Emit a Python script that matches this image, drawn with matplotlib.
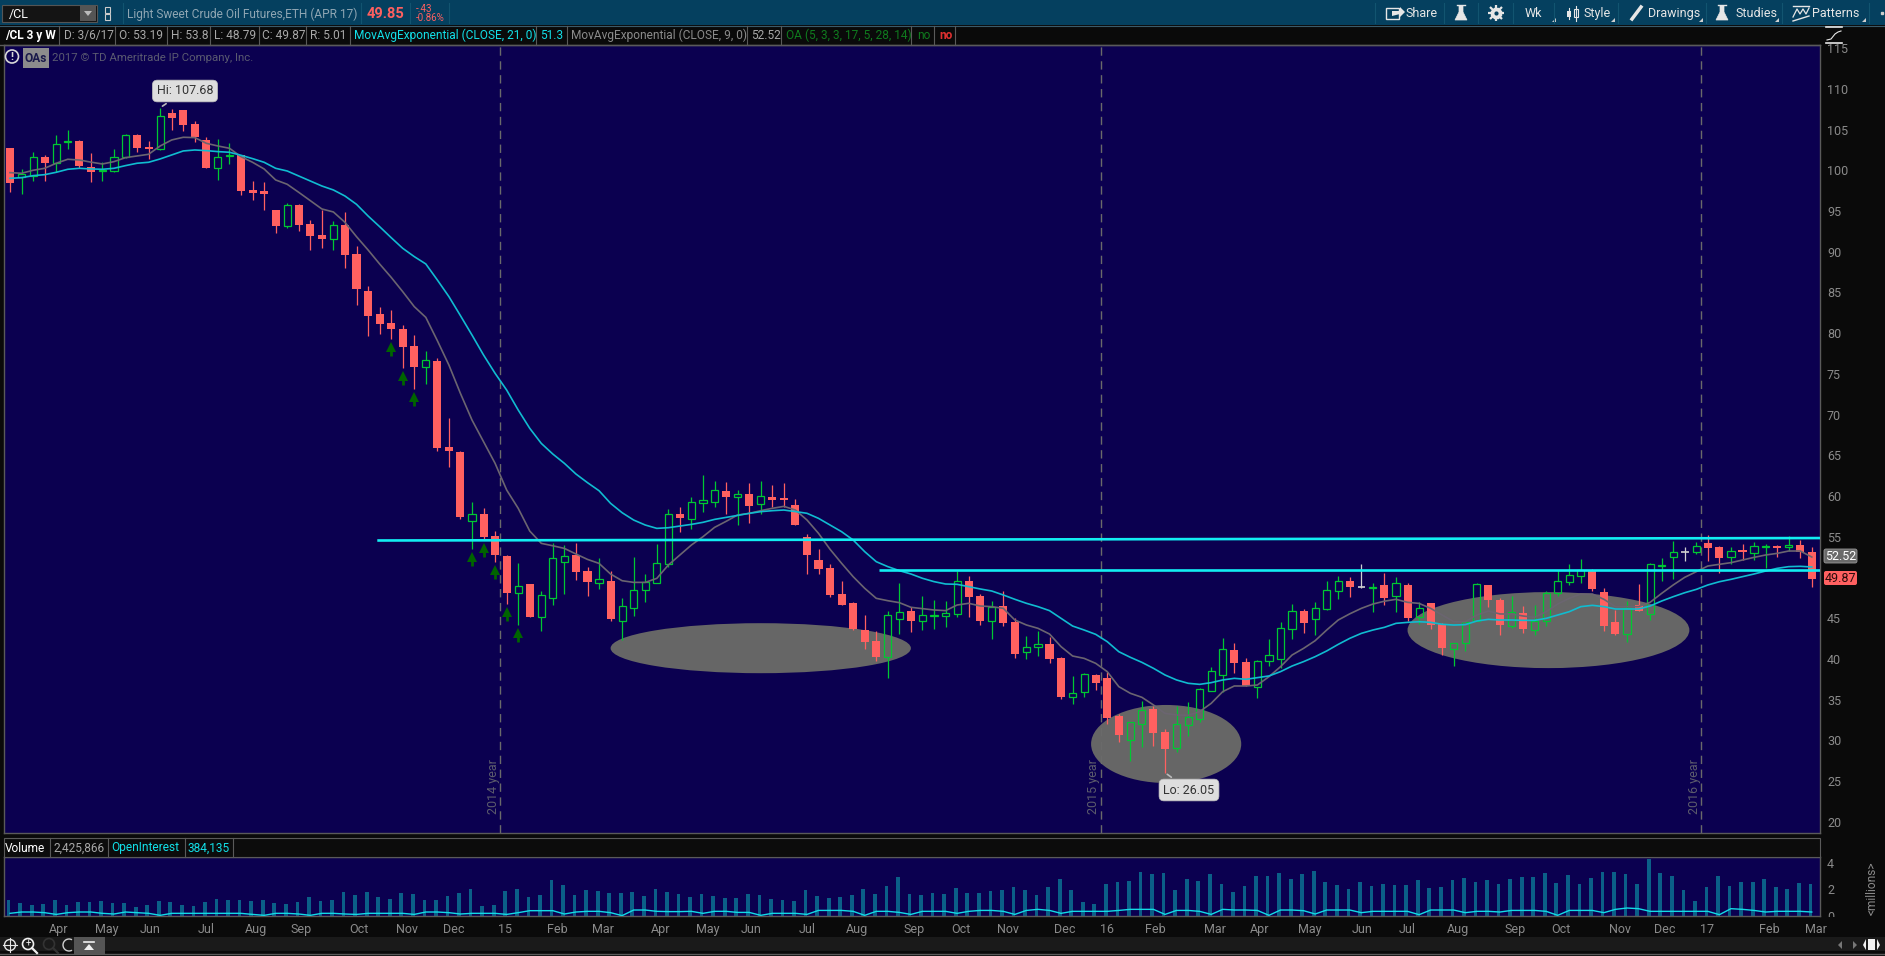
"""Weekly /CL crude oil chart, redrawn in the style of a thinkorswim window."""

import matplotlib
matplotlib.use("Agg")
import matplotlib.pyplot as plt
from matplotlib.patches import Arc, Ellipse, FancyBboxPatch, Rectangle, Circle, Polygon

W, H = 1885, 956

plt.rcParams['font.family'] = ['Roboto', 'DejaVu Sans']

opens = [102.74, 99.22, 99.34, 101.59, 100.86, 103.43, 103.60, 100.40, 99.87, 99.95,
         101.59, 104.33, 102.82, 102.66, 107.03, 107.40, 105.68, 103.72, 100.32, 101.71,
         101.88, 97.58, 97.46, 95.13, 93.20, 95.74, 93.41, 92.06, 91.61, 93.28,
         89.72, 85.18, 82.36, 81.25, 80.51, 78.42, 75.89, 76.58, 66.02, 65.41,
         56.98, 57.80, 55.10, 52.64, 48.14, 49.21, 45.20, 47.53, 51.95, 52.77,
         50.80, 49.37, 49.57, 44.71, 46.30, 48.51, 49.37, 51.70, 57.80, 57.23,
         59.19, 59.31, 60.62, 59.93, 60.25, 58.99, 59.89, 59.76, 58.91, 54.94,
         52.16, 51.17, 47.98, 46.88, 43.56, 42.21, 40.29, 44.95, 45.90, 44.71,
         45.32, 45.32, 45.57, 49.58, 47.74, 44.71, 46.51, 44.55, 40.90, 41.44,
         41.84, 40.13, 35.38, 35.91, 38.04, 37.67, 33.00, 30.10, 32.06, 33.86,
         31.04, 29.12, 31.94, 32.68, 36.12, 38.08, 41.11, 39.64, 36.61, 39.72,
         39.96, 43.73, 45.85, 44.95, 46.14, 48.39, 49.58, 48.96, 48.76, 49.09,
         47.78, 49.09, 45.12, 46.88, 44.30, 41.27, 42.01, 44.71, 49.09, 47.20,
         44.09, 45.65, 43.60, 44.63, 48.06, 49.49, 50.23, 50.93, 48.23, 44.54,
         43.11, 46.63, 45.48, 51.42, 52.56, 53.26, 53.18, 54.24, 53.75, 52.48,
         53.38, 53.05, 53.75, 53.87, 53.79, 53.99, 53.19]
highs = [102.74, 100.12, 102.21, 101.88, 104.33, 104.95, 103.72, 102.08, 101.06, 102.61,
         104.46, 104.46, 103.60, 107.68, 107.48, 107.40, 106.05, 104.05, 103.84, 103.31,
         101.92, 98.69, 98.56, 95.13, 95.94, 95.86, 93.90, 95.13, 93.73, 94.88,
         90.71, 85.80, 83.22, 82.85, 81.00, 79.77, 77.81, 76.95, 69.58, 65.53,
         59.27, 58.54, 55.71, 52.77, 51.78, 49.21, 48.35, 54.24, 54.00, 54.24,
         51.29, 52.40, 50.80, 47.49, 52.52, 50.43, 54.12, 58.41, 58.66, 59.89,
         62.59, 61.85, 61.73, 60.75, 61.60, 61.85, 61.36, 61.60, 59.64, 55.35,
         53.51, 51.67, 49.58, 47.00, 45.40, 43.44, 45.90, 49.33, 46.39, 47.74,
         47.25, 47.12, 50.81, 50.19, 47.98, 47.12, 48.35, 45.04, 42.83, 43.44,
         42.70, 40.25, 37.92, 38.28, 38.16, 38.41, 33.25, 32.27, 34.85, 34.23,
         31.41, 34.23, 34.72, 36.44, 39.02, 42.58, 41.97, 40.13, 39.88, 42.46,
         44.55, 46.75, 46.14, 47.00, 49.58, 50.19, 50.03, 51.66, 49.29, 50.56,
         50.07, 49.33, 47.00, 46.88, 44.38, 41.96, 44.71, 49.29, 49.09, 47.49,
         47.73, 46.51, 46.63, 48.35, 50.93, 51.66, 52.28, 51.05, 48.72, 46.02,
         47.12, 49.21, 51.79, 52.40, 54.49, 53.79, 54.36, 55.22, 53.87, 53.75,
         54.12, 54.36, 54.12, 54.00, 55.10, 54.61, 53.80]
lows = [97.38, 97.09, 98.73, 98.73, 99.75, 102.61, 100.24, 98.60, 98.73, 99.83,
        101.47, 102.25, 101.39, 102.49, 104.95, 104.82, 103.47, 100.32, 98.81, 100.77,
        96.97, 96.35, 95.13, 92.30, 92.96, 92.55, 90.22, 90.46, 90.22, 88.01,
        83.46, 79.66, 79.90, 79.29, 75.72, 73.14, 73.76, 65.53, 63.57, 57.19,
        53.50, 54.61, 51.91, 46.75, 44.17, 45.15, 43.44, 46.63, 47.98, 49.70,
        47.73, 48.59, 44.66, 42.33, 45.28, 47.00, 49.37, 51.33, 55.59, 55.96,
        58.05, 58.66, 57.80, 56.45, 56.69, 57.80, 58.62, 58.70, 56.45, 50.44,
        50.44, 47.61, 46.63, 43.56, 41.23, 39.76, 37.67, 43.07, 43.32, 43.56,
        43.69, 43.93, 45.16, 45.16, 44.18, 42.46, 44.05, 40.13, 40.00, 40.37,
        39.51, 35.09, 34.48, 35.34, 36.20, 32.02, 29.81, 27.48, 29.20, 29.32,
        26.05, 28.59, 30.55, 32.27, 36.12, 35.95, 38.28, 36.69, 35.22, 39.14,
        38.90, 42.46, 43.19, 42.95, 46.02, 47.37, 47.61, 48.68, 45.77, 46.63,
        45.77, 44.67, 44.30, 43.68, 40.49, 39.14, 40.98, 44.71, 46.38, 42.95,
        43.81, 43.19, 42.95, 44.05, 47.73, 49.09, 49.33, 48.35, 43.44, 42.95,
        42.09, 45.85, 44.79, 49.58, 49.82, 52.03, 52.89, 52.03, 50.56, 51.66,
        52.15, 52.15, 51.17, 52.52, 53.26, 52.40, 48.79]
closes = [98.44, 99.50, 101.59, 100.90, 103.19, 103.56, 100.53, 99.83, 100.06, 101.59,
          104.29, 102.74, 102.61, 106.62, 106.42, 105.56, 104.05, 100.32, 101.59, 101.84,
          97.50, 97.21, 97.09, 93.20, 95.74, 93.28, 91.93, 91.57, 93.24, 89.60,
          85.43, 82.11, 81.13, 80.52, 78.30, 75.85, 76.66, 65.90, 65.53, 57.43,
          57.76, 54.98, 52.77, 48.10, 48.92, 45.15, 47.81, 52.36, 52.60, 50.68,
          49.45, 49.78, 44.91, 46.46, 48.43, 49.49, 51.74, 57.76, 57.31, 59.23,
          59.48, 60.71, 59.89, 60.21, 58.78, 59.97, 59.52, 59.52, 56.45, 52.77,
          51.05, 47.86, 46.63, 43.69, 42.09, 40.25, 45.36, 45.73, 44.67, 45.36,
          45.40, 45.61, 49.54, 47.61, 44.67, 46.35, 44.42, 40.62, 41.44, 41.80,
          40.00, 35.34, 35.79, 38.12, 37.06, 32.76, 30.67, 32.23, 33.70, 30.92,
          28.95, 31.98, 32.84, 36.36, 38.49, 41.19, 39.51, 36.69, 39.76, 40.45,
          43.77, 45.94, 44.42, 46.30, 48.43, 49.54, 48.84, 48.84, 48.84, 47.49,
          49.29, 45.03, 46.22, 44.17, 41.35, 41.92, 44.58, 49.17, 47.24, 44.17,
          45.73, 43.68, 44.67, 48.10, 49.54, 50.27, 50.93, 48.60, 44.05, 43.07,
          46.22, 45.93, 51.66, 51.50, 53.10, 53.18, 53.83, 53.63, 52.40, 53.22,
          53.14, 53.83, 53.87, 53.63, 53.99, 53.14, 49.87]

ema_9 = [99.71, 99.63, 100.0, 100.24, 100.86, 101.35, 101.26, 101.0, 100.77, 101.06,
         101.55, 101.75, 101.96, 102.98, 103.72, 104.05, 104.01, 103.31, 102.98, 102.70,
         101.67, 100.98, 100.16, 98.81, 98.28, 97.29, 96.27, 95.25, 94.88, 93.61,
         91.85, 90.22, 88.50, 86.86, 85.10, 83.26, 81.94, 79.08, 76.09, 72.60,
         69.34, 66.68, 64.02, 60.75, 58.50, 55.71, 54.20, 53.9, 53.58, 52.89,
         52.23, 51.74, 50.43, 49.61, 49.41, 49.41, 49.90, 51.54, 52.77, 54.00,
         55.02, 56.16, 56.9, 57.68, 57.88, 58.21, 58.5, 58.74, 58.29, 57.07,
         55.43, 53.47, 51.75, 50.11, 48.68, 47.45, 47.16, 46.92, 46.35, 46.18,
         46.02, 45.94, 46.63, 46.84, 46.51, 46.43, 46.22, 44.79, 44.18, 43.77,
         43.07, 41.52, 40.37, 40.08, 39.47, 38.45, 36.61, 35.79, 35.30, 34.36,
         33.33, 33.13, 33.09, 33.54, 34.56, 36.00, 36.69, 36.69, 36.81, 37.83,
         39.06, 40.49, 41.31, 42.25, 43.56, 44.79, 45.55, 46.22, 46.75, 47.1,
         47.33, 46.96, 46.83, 46.22, 45.40, 44.58, 44.58, 45.40, 45.89, 45.53,
         45.53, 45.28, 45.12, 45.81, 46.75, 47.45, 47.98, 47.98, 47.33, 46.43,
         46.43, 46.43, 46.96, 48.06, 49.09, 50.03, 50.72, 51.42, 51.62, 51.83,
         52.15, 52.48, 52.77, 52.97, 53.26, 53.26, 52.52]
ema_21 = [99.01, 99.09, 99.34, 99.46, 99.75, 100.12, 100.24, 100.16, 100.12, 100.24,
          100.57, 100.86, 100.98, 101.39, 101.88, 102.37, 102.49, 102.41, 102.29, 102.21,
          101.84, 101.43, 100.98, 100.24, 99.91, 99.30, 98.69, 98.07, 97.58, 96.84,
          95.82, 94.39, 93.08, 91.73, 90.42, 89.40, 88.50, 86.53, 84.49, 82.15,
          79.77, 77.32, 75.07, 73.02, 70.57, 68.32, 66.47, 65.16, 64.02, 62.71,
          61.65, 60.66, 59.11, 57.96, 57.06, 56.45, 56.04, 56.12, 56.33, 56.53,
          56.78, 57.14, 57.39, 57.64, 57.88, 58.09, 58.21, 58.29, 58.10, 57.89,
          57.27, 56.45, 55.63, 54.61, 53.18, 51.95, 51.34, 50.85, 50.44, 49.91,
          49.50, 49.21, 49.17, 48.88, 48.60, 48.35, 47.86, 47.33, 46.84, 46.43,
          45.94, 45.00, 44.05, 43.56, 43.03, 42.13, 40.90, 40.21, 39.59, 38.86,
          38.04, 37.43, 37.02, 36.89, 37.10, 37.43, 37.63, 37.51, 37.71, 37.92,
          38.45, 39.14, 39.68, 40.29, 40.99, 41.80, 42.54, 43.15, 43.56, 43.89,
          44.38, 44.50, 44.58, 44.50, 44.26, 44.17, 44.22, 44.67, 44.87, 44.79,
          44.79, 44.75, 44.75, 44.99, 45.40, 45.81, 46.43, 46.59, 46.43, 46.14,
          46.14, 46.14, 46.51, 47.12, 47.65, 48.14, 48.55, 49.09, 49.49, 49.78,
          50.11, 50.44, 50.80, 51.13, 51.34, 51.38, 51.30]

# millions of contracts
volume = [1.2, 0.98, 0.83, 0.9, 1.2, 0.83, 1.05, 1.05, 1.12, 0.98,
          0.98, 0.68, 0.83, 1.12, 1.05, 0.83, 0.75, 1.05, 1.27, 1.2,
          1.2, 1.12, 1.2, 0.98, 0.9, 1.05, 1.42, 1.12, 1.2, 1.8,
          1.58, 1.8, 1.42, 1.27, 1.72, 1.65, 1.2, 1.2, 1.5, 1.72,
          2.02, 0.75, 0.83, 1.88, 2.02, 1.42, 1.58, 2.7, 2.32, 1.58,
          1.95, 1.88, 1.72, 1.72, 1.8, 1.5, 2.02, 1.8, 1.65, 1.42,
          1.65, 1.5, 1.35, 1.35, 1.65, 1.58, 1.27, 1.2, 1.12, 1.95,
          1.5, 1.35, 1.42, 1.58, 2.02, 1.65, 2.25, 2.92, 1.65, 1.58,
          1.72, 1.65, 2.1, 1.72, 1.72, 1.88, 1.95, 2.18, 1.95, 1.58,
          2.18, 2.78, 1.95, 1.05, 0.9, 2.4, 2.55, 2.62, 3.3, 3.15,
          3.22, 1.95, 2.78, 2.62, 3.15, 2.4, 1.8, 2.25, 3.0, 3.0,
          3.22, 2.78, 3.15, 3.38, 2.55, 2.32, 2.02, 2.55, 2.25, 2.4,
          2.32, 2.32, 2.7, 2.1, 2.18, 2.7, 2.85, 2.55, 2.7, 2.4,
          2.78, 2.92, 2.92, 3.22, 2.48, 3.08, 2.4, 2.85, 3.3, 3.3,
          3.15, 2.4, 4.28, 3.22, 3.0, 1.95, 1.12, 2.18, 3.0, 2.25,
          2.55, 2.55, 2.78, 2.18, 2.02, 2.48, 2.4]
open_interest = [0.2, 0.3, 0.3, 0.25, 0.12, 0.25, 0.3, 0.3, 0.2, 0.15,
                 0.3, 0.25, 0.2, 0.05, 0.2, 0.2, 0.2, 0.2, 0.2, 0.2,
                 0.2, 0.12, 0.05, 0.2, 0.2, 0.15, 0.05, 0.2, 0.2, 0.15,
                 0.12, 0.2, 0.2, 0.2, 0.2, 0.12, 0.3, 0.3, 0.25, 0.15,
                 0.2, 0.2, 0.2, 0.12, 0.25, 0.4, 0.4, 0.4, 0.15, 0.3,
                 0.35, 0.35, 0.25, 0.03, 0.45, 0.45, 0.35, 0.33, 0.33, 0.35,
                 0.2, 0.35, 0.35, 0.27, 0.27, 0.05, 0.2, 0.2, 0.2, 0.12,
                 0.42, 0.42, 0.42, 0.35, 0.05, 0.35, 0.35, 0.27, 0.12, 0.35,
                 0.35, 0.35, 0.2, 0.35, 0.42, 0.42, 0.35, 0.12, 0.42, 0.5,
                 0.42, 0.2, 0.35, 0.35, 0.35, 0.35, 0.42, 0.5, 0.5, 0.5,
                 0.12, 0.42, 0.42, 0.35, 0.12, 0.5, 0.45, 0.45, 0.42, 0.05,
                 0.45, 0.45, 0.4, 0.15, 0.45, 0.45, 0.45, 0.25, 0.35, 0.35,
                 0.35, 0.35, 0.1, 0.45, 0.45, 0.45, 0.25, 0.35, 0.35, 0.3,
                 0.42, 0.42, 0.42, 0.35, 0.05, 0.42, 0.42, 0.42, 0.25, 0.5,
                 0.6, 0.55, 0.35, 0.35, 0.35, 0.35, 0.35, 0.35, 0.1, 0.55,
                 0.5, 0.42, 0.3, 0.35, 0.35, 0.35, 0.3]

# week numbers counted from 1
weeks = list(range(1, len(opens) + 1))
neutral_weeks = [118, 146]
signal_weeks = [34, 35, 36, 41, 42, 43, 44, 45]

month_ticks = [5.24, 9.4, 13.1, 18, 22.3, 26.2, 31.2, 35.4, 39.4, 43.9, 48.4, 52.3,
               57.3, 61.4, 65.2, 70, 74.3, 79.3, 83.3, 87.4, 92.3, 96, 100.2, 105.3,
               109.2, 113.5, 118.1, 122, 126.4, 131.3, 135.3, 140.4, 144.3, 147.9,
               153.3, 157.4]
month_labels = ['Apr', 'May', 'Jun', 'Jul', 'Aug', 'Sep', 'Oct', 'Nov', 'Dec', '15', 'Feb', 'Mar',
                'Apr', 'May', 'Jun', 'Jul', 'Aug', 'Sep', 'Oct', 'Nov', 'Dec', '16', 'Feb', 'Mar',
                'Apr', 'May', 'Jun', 'Jul', 'Aug', 'Sep', 'Oct', 'Nov', 'Dec', '17', 'Feb', 'Mar']
# 50 sits behind the last price flag in the scale
price_ticks = [p for p in range(20, 116, 5) if p != 50]
volume_ticks = [0, 2, 4]

year_weeks = [43.45, 95.45, 147.45]
year_labels = ['2014 year', '2015 year', '2016 year']

# hand drawn notes: (center week, center price, width in weeks, height in price)
zones = [(66.0, 41.33, 26.0, 6.14), (101.1, 29.57, 13.0, 9.58), (134.2, 43.55, 24.4, 9.33)]
# (start week, price at start, price at right edge)
level_lines = [(32.8, 54.55, 54.85), (76.2, 50.93, 50.93)]

BG = '#0a0a0a'
NAVY = '#0b0050'
BAR_BLUE = '#05405f'
RED = '#ff6060'
GREEN = '#00c832'
BORDER = '#5a5a5a'
GREY_TEXT = '#a8a8a8'

XMIN = 1 + (4 - 10) / 11.55
XMAX = 1 + (1820 - 10) / 11.55


def add_panel(left, top, right, bottom):
    """Axes placed by pixel edges."""
    a = fig.add_axes([left / W, 1 - bottom / H, (right - left) / W, (bottom - top) / H])
    a.set_facecolor(NAVY)
    a.set_xlim(XMIN, XMAX)
    for s in a.spines.values():
        s.set_color(BORDER)
        s.set_linewidth(1.0)
    return a


def label(x, y, s, color=GREY_TEXT, size=8.6, weight='normal', ha='left', **kw):
    chrome.text(x, y, s, color=color, fontsize=size, fontweight=weight, ha=ha, va='center', **kw)


def flask(cx, cy, s=1.0, color='#e6e6e6'):
    chrome.add_patch(Polygon([(cx - 2 * s, cy - 7 * s), (cx + 2 * s, cy - 7 * s), (cx + 2 * s, cy - 1 * s),
                              (cx + 6 * s, cy + 7 * s), (cx - 6 * s, cy + 7 * s), (cx - 2 * s, cy - 1 * s)],
                             fc=color, ec=color, lw=0.5))
    chrome.plot([cx - 4 * s, cx + 4 * s], [cy - 8 * s, cy - 8 * s], color=color, lw=1)


fig = plt.figure(figsize=(W / 100, H / 100), dpi=100, facecolor=BG)

# main price panel
ax = add_panel(4, 45, 1820, 833)
ax.set_ylim(107.68 - (833 - 107.7) / 8.146, 107.68 + (107.7 - 45) / 8.146)

for cx, cy, w, h in zones:
    ax.add_patch(Ellipse((cx, cy), w, h, fc='#666666', ec='none', zorder=1))

for w, name in zip(year_weeks, year_labels):
    ax.axvline(w, color='#6a6a6a', lw=1.0, dashes=(6, 4), zorder=2)
    ax.text(w - 0.62, 21.0, name, rotation=90, color='#5c5c6c', fontsize=9, ha='center', va='bottom', zorder=2)

for i, week in enumerate(weeks):
    o, hi, lo, c = opens[i], highs[i], lows[i], closes[i]
    top, bottom = max(o, c), min(o, c)
    if week in neutral_weeks:
        col = '#d0d0d0'
        ax.vlines(week, lo, hi, color=col, lw=0.9, zorder=3)
        ax.hlines(c, week - 0.33, week + 0.33, color=col, lw=1.2, zorder=3)
    elif c < o:
        ax.vlines(week, lo, hi, color=RED, lw=0.9, zorder=3)
        ax.bar(week, top - bottom, 0.7, bottom=bottom, color=RED, lw=0, zorder=3)
    else:
        # hollow body, the wick stops at the body
        ax.vlines(week, top, hi, color=GREEN, lw=0.9, zorder=3)
        ax.vlines(week, lo, bottom, color=GREEN, lw=0.9, zorder=3)
        ax.bar(week, top - bottom, 0.62, bottom=bottom, fc='none', ec=GREEN, lw=0.9, zorder=3)

for week in signal_weeks:
    lo = lows[week - 1]
    ax.vlines(week, lo - 2.05, lo - 0.9, color='#006400', lw=2.0, zorder=3)
    ax.plot(week, lo - 0.95, marker='^', ms=6.5, color='#006400', mew=0, zorder=3)

ax.plot(weeks, ema_9, color='#6b6570', lw=1.2, zorder=4)
ax.plot(weeks, ema_21, color='#10bcd0', lw=1.2, zorder=5)

for start, p0, p1 in level_lines:
    ax.plot([start, XMAX], [p0, p1], color='#12eef2', lw=1.9, zorder=6, solid_capstyle='butt')

note_box = dict(boxstyle='round,pad=0.35,rounding_size=0.4', fc='#dedede', ec='#bbbbbb', lw=0.5)
ax.annotate('Hi: 107.68', xy=(14, highs[13]), xytext=(185, 956 - 91), textcoords='figure pixels',
            ha='center', va='center', fontsize=9, color='#333333', zorder=8, bbox=note_box,
            arrowprops=dict(arrowstyle='-', color='#bbbbbb', lw=1.2))
ax.annotate('Lo: 26.05', xy=(101, lows[100]), xytext=(1189, 956 - 790), textcoords='figure pixels',
            ha='center', va='center', fontsize=9, color='#333333', zorder=8, bbox=note_box,
            arrowprops=dict(arrowstyle='-', color='#bbbbbb', lw=1.2))

ax.set_xticks([])
ax.yaxis.tick_right()
ax.set_yticks(price_ticks)
ax.tick_params(axis='y', length=0, pad=5, labelsize=9, labelcolor='#8a8a8a')

# volume panel
vax = add_panel(4, 857, 1820, 916)
vax.set_ylim(0, 59 / 13.3)
vax.bar([w - 0.12 for w in weeks], volume, 0.32, color='#0b5f88', lw=0, zorder=2)
vax.plot(weeks, open_interest, color='#12dbe6', lw=1.0, zorder=3)
vax.set_xticks(month_ticks)
vax.set_xticklabels(month_labels)
vax.yaxis.tick_right()
vax.set_yticks(volume_ticks)
vax.tick_params(axis='y', length=0, pad=5, labelsize=9, labelcolor='#8a8a8a')
vax.tick_params(axis='x', length=0, pad=5, labelsize=9, labelcolor='#8a8a8a')

# window chrome in pixel coordinates, on top of the panels
chrome = fig.add_axes([0, 0, 1, 1], zorder=10)
chrome.set_xlim(0, W)
chrome.set_ylim(H, 0)
chrome.axis('off')
chrome.patch.set_alpha(0)

# the lower half of the volume 0 label is cut off by the date row
chrome.add_patch(Rectangle((1822, 917), 40, 4, fc=BG, ec='none'))

# top bar
chrome.add_patch(Rectangle((0, 0), W, 25, fc=BAR_BLUE, ec='none'))
chrome.plot([0, W], [25.5, 25.5], color='#3a5a6a', lw=0.8)
chrome.add_patch(Rectangle((2, 5), 95, 17, fc='#141414', ec='#555555', lw=0.8))
chrome.add_patch(Rectangle((80, 6), 16, 15, fc='#555555', ec='none'))
chrome.add_patch(Polygon([(84, 11), (92, 11), (88, 16)], fc='#bbbbbb', ec='none'))
label(9, 14, '/CL', '#ffffff', 9)
chrome.add_patch(Rectangle((105, 7), 5, 6, fc='none', ec='#cccccc', lw=0.8))
chrome.add_patch(Rectangle((105, 14), 5, 6, fc='none', ec='#cccccc', lw=0.8))
label(127, 14, 'Light Sweet Crude Oil Futures,ETH (APR 17)', '#8fa6b3', 8.6)
label(367, 14, '49.85', RED, 10.5, 'bold')
label(416, 9, '-.43', RED, 7)
label(416, 18, '-0.86%', RED, 7)
for x in [123, 361, 410, 449, 1375, 1444, 1478, 1513, 1554, 1618, 1706, 1782, 1869]:
    chrome.plot([x, x], [3, 23], color='#125470', lw=0.8)

label(1405, 13, 'Share', '#e6e6e6', 9)
chrome.add_patch(Rectangle((1386, 8), 13, 11, fc='none', ec='#e6e6e6', lw=1))
chrome.add_patch(Polygon([(1392, 11), (1400, 11), (1400, 7), (1405, 12), (1400, 17), (1400, 14), (1392, 16)],
                         fc='#e6e6e6', ec='none'))
flask(1461, 13)
chrome.plot(1496, 13, marker='8', ms=7.5, color='#e6e6e6')
chrome.plot(1496, 13, marker='+', ms=11, mew=1.6, color='#e6e6e6')
chrome.plot(1496, 13, marker='x', ms=8.5, mew=1.6, color='#e6e6e6')
chrome.plot(1496, 13, marker='o', ms=3, color=BAR_BLUE, mew=0)
label(1525, 13, 'Wk', '#e6e6e6', 9)
chrome.plot([1569, 1569], [8, 19], color='#e6e6e6', lw=0.8)
chrome.add_patch(Rectangle((1567, 11), 4, 6, fc='#e6e6e6', ec='none'))
chrome.plot([1576, 1576], [6, 21], color='#e6e6e6', lw=0.8)
chrome.add_patch(Rectangle((1574, 9), 4, 8, fc='none', ec='#e6e6e6', lw=0.8))
label(1584, 13, 'Style', '#e6e6e6', 9)
chrome.plot([1632, 1641], [19, 7], color='#e6e6e6', lw=2.5)
label(1648, 13, 'Drawings', '#e6e6e6', 9)
flask(1722, 13)
label(1735, 13, 'Studies', '#e6e6e6', 9)
chrome.plot([1793, 1797, 1800, 1803, 1806, 1809], [17, 9, 14, 9, 14, 8], color='#e6e6e6', lw=0.9)
chrome.plot([1793, 1809], [5.5, 5.5], color='#e6e6e6', lw=1)
chrome.plot([1793, 1809], [21, 16], color='#e6e6e6', lw=1)
label(1812, 13, 'Patterns', '#e6e6e6', 9)
for x in [1556, 1615, 1703, 1779, 1866]:
    chrome.add_patch(Polygon([(x - 4, 22), (x, 22), (x, 18)], fc='#cfcfcf', ec='none'))
chrome.plot([1882], [13], marker='s', ms=1.5, color='#cccccc')

# study header cells
chrome.plot([0, 1820], [45, 45], color=BORDER, lw=1.0)
for x in [59, 114.5, 167, 210, 259, 306, 350, 536, 567, 747, 781, 911, 934, 955]:
    chrome.plot([x, x], [26, 45], color=BORDER, lw=0.8)
label(5, 35, '/CL 3 y W', '#ffffff', 8.6, 'bold')
label(64, 35, 'D: 3/6/17')
label(119, 35, 'O: 53.19')
label(171, 35, 'H: 53.8')
label(214, 35, 'L: 48.79')
label(262, 35, 'C: 49.87')
label(310, 35, 'R: 5.01')
label(354, 35, 'MovAvgExponential (CLOSE, 21, 0)', '#12e0e8')
label(540, 35, '51.3', '#12e0e8')
label(571, 35, 'MovAvgExponential (CLOSE, 9, 0)', '#8a8a8a')
label(751, 35, '52.52', '#a8a8a8')
label(786, 35, 'OA (5, 3, 3, 17, 5, 28, 14)', '#0f7a1e')
label(917, 35, 'no', '#0f7a1e')
label(939, 35, 'no', '#e03030', weight='bold')

# fit icon above the price scale
chrome.plot([1826, 1842], [27, 27], color='#e6e6e6', lw=1.2)
chrome.plot([1826, 1842], [43, 43], color='#e6e6e6', lw=1.2)
chrome.plot([1827, 1831, 1835, 1838, 1841], [40, 39, 34, 32, 31], color='#e6e6e6', lw=0.8)

# copyright line and OAs flag
chrome.add_patch(Circle((12, 56.5), 6.5, fc='none', ec='#d8d8d8', lw=1.2))
label(12, 56.5, '!', '#d8d8d8', 8, 'bold', ha='center')
chrome.add_patch(Rectangle((23, 48), 26, 20, fc='#8c8c8c', ec='none'))
label(36, 58, 'OAs', '#1a1a4a', 8.6, 'bold', ha='center')
label(52, 58, '2017 \u00a9 TD Ameritrade IP Company, Inc.', '#5a5a70', 8.2)

# last price flags
chrome.add_patch(FancyBboxPatch((1826, 551), 29, 10, boxstyle='round,pad=2', fc='#6a6a6a', ec='#999999', lw=0.6))
label(1840.5, 556, '52.52', '#ffffff', 9, ha='center')
chrome.add_patch(FancyBboxPatch((1826, 573), 29, 10, boxstyle='round,pad=2', fc=RED, ec='none'))
label(1840.5, 578, '49.87', '#2a0a0a', 9, ha='center')

# volume header
chrome.add_patch(Rectangle((4, 838), 1816, 19, fc='#0c0c0c', ec=BORDER, lw=0.8))
for x in [50, 108, 185, 233]:
    chrome.plot([x, x], [838, 857], color=BORDER, lw=0.8)
label(5, 848, 'Volume', '#ffffff')
label(54, 848, '2,425,866')
label(111, 848, 'OpenInterest', '#12e0e8')
label(188, 848, '384,135', '#12e0e8')
label(1872, 888, '<millions>', '#8a8a8a', 8.6, rotation=90, ha='center')

# footer
chrome.add_patch(Rectangle((0, 937), W, 14, fc='#1a1a1a', ec='none'))
chrome.plot([0, W], [954, 954], color=BORDER, lw=1.0)
chrome.add_patch(Rectangle((74, 937), 31, 17, fc='#555555', ec='none'))
chrome.add_patch(Polygon([(84, 950), (94, 950), (89, 944)], fc='#f0f0f0', ec='none'))
chrome.plot([84, 94], [942, 942], color='#f0f0f0', lw=1.2)
chrome.add_patch(Circle((10, 945), 5.5, fc='none', ec='#e6e6e6', lw=1))
chrome.plot([10, 10], [938, 952], color='#e6e6e6', lw=0.8)
chrome.plot([3, 17], [945, 945], color='#e6e6e6', lw=0.8)
chrome.add_patch(Circle((28, 944), 5.5, fc='none', ec='#f0f0f0', lw=1.2))
chrome.plot([32, 37], [948, 953], color='#f0f0f0', lw=1.6)
chrome.text(28, 944, '+', color='#f0f0f0', fontsize=7, ha='center', va='center')
chrome.add_patch(Circle((49, 944), 5.5, fc='none', ec='#333333', lw=1.2))
chrome.plot([53, 58], [948, 953], color='#333333', lw=1.6)
chrome.add_patch(Arc((69, 945), 12, 12, theta1=60, theta2=300, ec='#d0d0d0', lw=1))
chrome.add_patch(Polygon([(1842, 941), (1842, 949), (1838, 945)], fc='#777777', ec='none'))
chrome.add_patch(Polygon([(1853, 941), (1853, 949), (1857, 945)], fc='#777777', ec='none'))
chrome.add_patch(Rectangle((1868, 939), 7, 11, fc='#f0f0f0', ec='none'))
chrome.add_patch(Polygon([(1866, 939), (1866, 950), (1863, 945)], fc='#f0f0f0', ec='none'))
chrome.add_patch(Polygon([(1877, 939), (1877, 950), (1880, 945)], fc='#f0f0f0', ec='none'))

fig.savefig('out.png', dpi=100, facecolor=fig.get_facecolor())
